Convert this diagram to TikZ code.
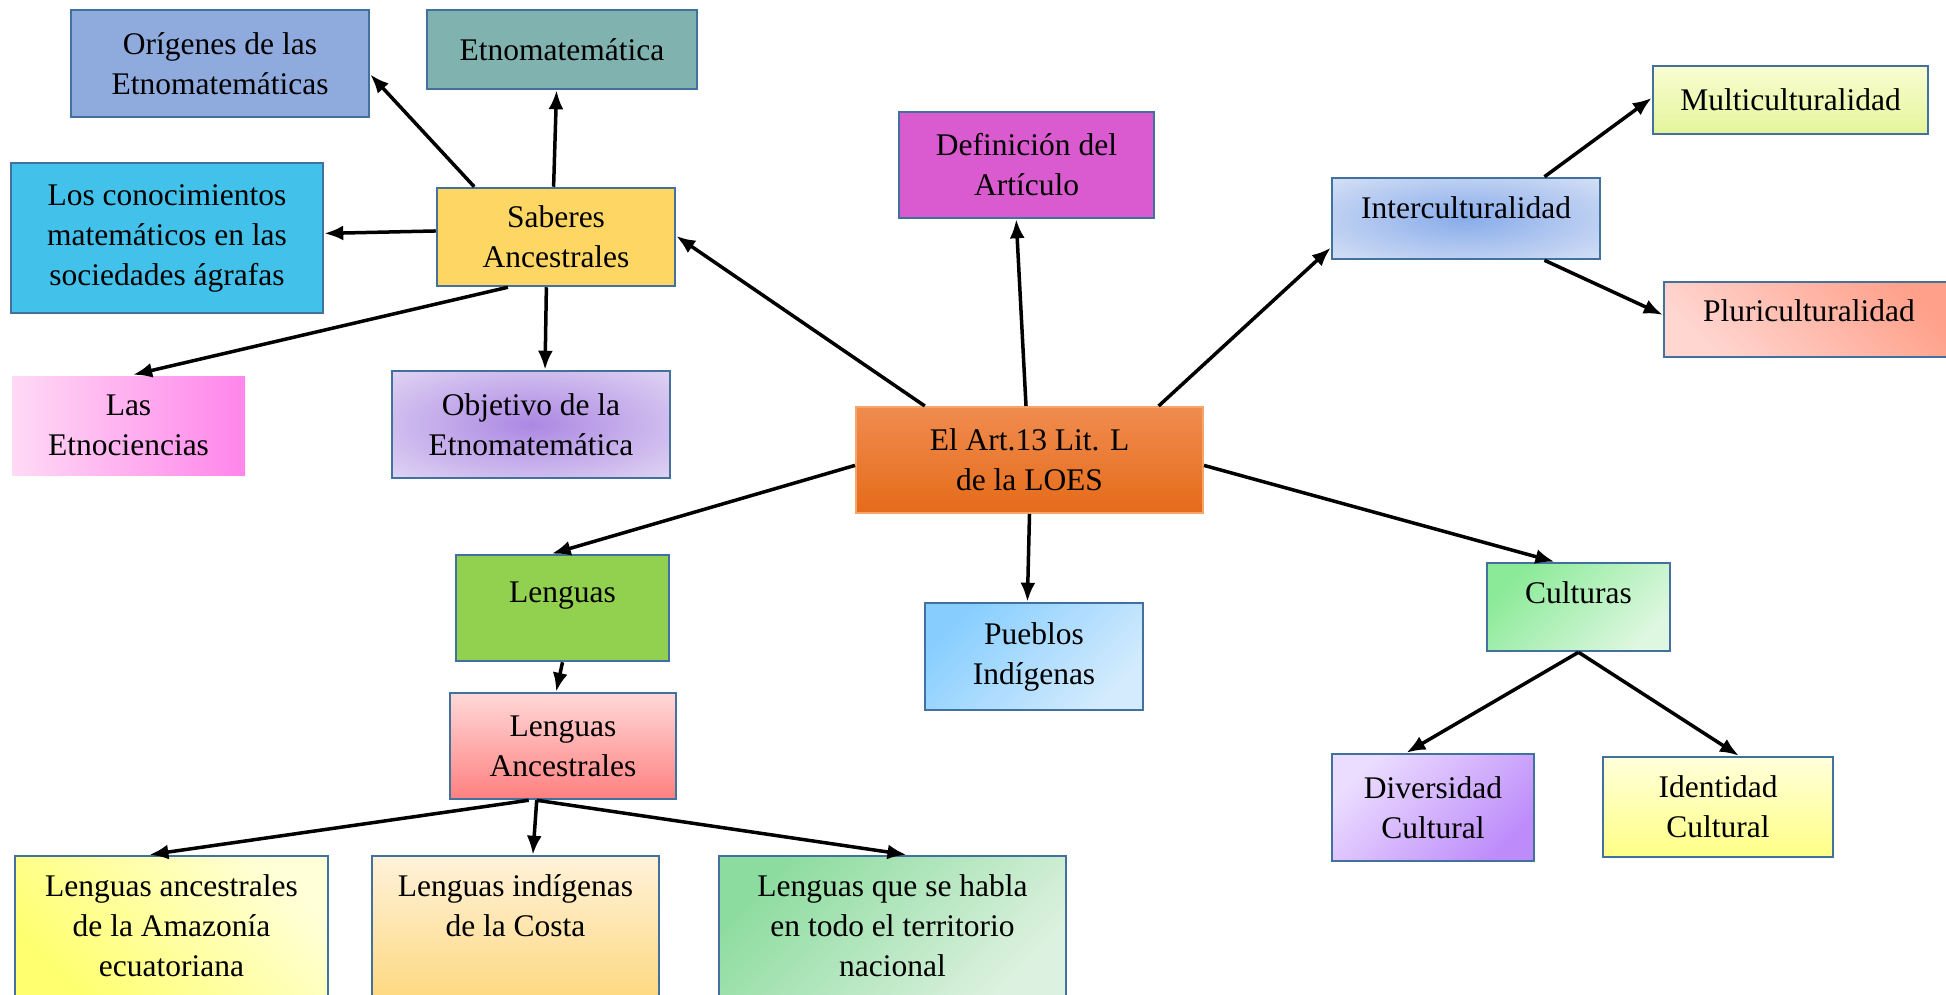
\documentclass[tikz,border=0pt]{standalone}
\usepackage{fontspec}
\setmainfont{Liberation Serif}
\usetikzlibrary{arrows.meta,calc}
\definecolor{bordc}{HTML}{41719C}
\definecolor{cOrig}{HTML}{8FABDD}
\definecolor{cEtno}{HTML}{80B2AF}
\definecolor{cConoc}{HTML}{42C2EB}
\definecolor{cSab}{HTML}{FDD663}
\definecolor{cDef}{HTML}{DA5ACF}
\definecolor{cLeng}{HTML}{92D050}
\definecolor{cArtB}{HTML}{F5A46B}
\definecolor{objin}{RGB}{172,136,227}
\definecolor{objout}{RGB}{230,221,245}
\definecolor{intin}{RGB}{136,172,234}
\definecolor{intout}{RGB}{222,230,247}
\pgfdeclareradialshading{objrad}{\pgfpoint{0bp}{0bp}}{color(0bp)=(objin); color(40bp)=(objout); color(50bp)=(objout)}
\pgfdeclareradialshading{intrad}{\pgfpoint{0bp}{0bp}}{color(0bp)=(intin); color(40bp)=(intout); color(50bp)=(intout)}
\tikzset{
  box/.style={draw=bordc, line width=2.5pt, inner sep=0pt, align=center,
    font=\fontsize{31.5}{40}\selectfont},
  con/.style={draw=black, line width=3.5pt, -{Latex[length=19pt,width=15pt]}},
}
\begin{document}
\begin{tikzpicture}[x=1pt,y=-1pt]
\useasboundingbox (0,0) rectangle (1946,995);
% top-left cluster
\node[box, fill=cOrig, minimum width=298pt, minimum height=107pt] (orig) at (220,63.5) {Orígenes de las\\Etnomatemáticas};
\node[box, fill=cEtno, minimum width=270pt, minimum height=79pt] (etno) at (562,49.5) {Etnomatemática};
\node[box, fill=cConoc, minimum width=312pt, minimum height=150pt] (conoc) at (167,238) {Los conocimientos\\matemáticos en las\\sociedades ágrafas};
\node[box, fill=cSab, minimum width=238pt, minimum height=98pt] (sab) at (556,237) {Saberes\\Ancestrales};
\node[box, draw=none, left color={rgb,255:red,255;green,218;blue,245}, right color={rgb,255:red,255;green,133;blue,235}, minimum width=233pt, minimum height=99pt] (etnoc) at (128.5,425.5) {Las\\Etnociencias};
\node[box, shading=objrad, minimum width=278pt, minimum height=107pt] (obj) at (531,424.5) {Objetivo de la\\Etnomatemática};
% center
\node[box, fill=cDef, minimum width=255pt, minimum height=106pt] (def) at (1026.5,165) {Definición del\\Artículo};
\node[box, draw=cArtB, line width=2pt, top color={rgb,255:red,240;green,140;blue,80}, middle color={rgb,255:red,244;green,126;blue,44}, bottom color={rgb,255:red,229;green,107;blue,25}, minimum width=347pt, minimum height=106pt] (art) at (1029.5,460) {El Art.13 Lit. L\\de la LOES};
% right cluster
\node[box, shading=intrad, minimum width=268pt, minimum height=81pt, text depth=21pt] (inter) at (1466,218.5) {Interculturalidad};
\node[box, top color={rgb,255:red,249;green,253;blue,210}, bottom color={rgb,255:red,228;green,245;blue,155}, minimum width=275pt, minimum height=68pt] (multi) at (1790.5,100) {Multiculturalidad};
\node[box, top color={rgb,255:red,255;green,160;blue,138}, bottom color={rgb,255:red,255;green,214;blue,208}, shading angle=-45, minimum width=290pt, minimum height=75pt, text depth=17pt] (pluri) at (1809,319.5) {Pluriculturalidad};
% lower middle
\node[box, fill=cLeng, minimum width=213pt, minimum height=106pt, text depth=31pt] (leng) at (562.5,608) {Lenguas};
\node[box, top color={rgb,255:red,135;green,206;blue,255}, bottom color={rgb,255:red,212;green,235;blue,253}, shading angle=45, minimum width=218pt, minimum height=107pt] (pueb) at (1034,656.5) {Pueblos\\Indígenas};
\node[box, top color={rgb,255:red,255;green,216;blue,216}, bottom color={rgb,255:red,255;green,128;blue,128}, minimum width=226pt, minimum height=106pt] (lanc) at (563,746) {Lenguas\\Ancestrales};
% bottom row
\node[box, top color={rgb,255:red,255;green,255;blue,216}, bottom color={rgb,255:red,255;green,255;blue,112}, shading angle=-45, minimum width=313pt, minimum height=140pt] (amaz) at (171.5,926) {Lenguas ancestrales\\de la Amazonía\\ecuatoriana};
\node[box, top color={rgb,255:red,255;green,242;blue,218}, bottom color={rgb,255:red,253;green,217;blue,130}, minimum width=287pt, minimum height=140pt] (costa) at (515.5,926) {Lenguas indígenas\\de la Costa\\\mbox{}};
\node[box, top color={rgb,255:red,141;green,220;blue,159}, bottom color={rgb,255:red,220;green,241;blue,223}, shading angle=45, minimum width=347pt, minimum height=140pt] (habla) at (892.5,926) {Lenguas que se habla\\en todo el territorio\\nacional};
% lower right
\node[box, top color={rgb,255:red,139;green,234;blue,152}, bottom color={rgb,255:red,221;green,247;blue,224}, shading angle=45, minimum width=183pt, minimum height=88pt, text depth=29.5pt] (cult) at (1578.5,607) {Culturas};
\node[box, top color={rgb,255:red,235;green,221;blue,255}, bottom color={rgb,255:red,190;green,140;blue,250}, shading angle=45, minimum width=202pt, minimum height=107pt] (div) at (1433,807.5) {Diversidad\\Cultural};
\node[box, top color={rgb,255:red,255;green,255;blue,219}, bottom color={rgb,255:red,255;green,255;blue,133}, minimum width=230pt, minimum height=100pt] (ident) at (1718,807) {Identidad\\Cultural};
% connectors
\draw[con] ($(sab.north west)!0.16!(sab.north east)$) -- ($(orig.north east)!0.6!(orig.south east)$);
\draw[con] ($(sab.north west)!0.49!(sab.north east)$) -- ($(etno.south west)!0.48!(etno.south east)$);
\draw[con] ($(sab.north west)!0.44!(sab.south west)$) -- ($(conoc.north east)!0.47!(conoc.south east)$);
\draw[con] ($(sab.south west)!0.30!(sab.south east)$) -- ($(etnoc.north west)!0.52!(etnoc.north east)$);
\draw[con] ($(sab.south west)!0.46!(sab.south east)$) -- ($(obj.north west)!0.55!(obj.north east)$);
\draw[con] ($(art.north west)!0.2!(art.north east)$) -- ($(sab.north east)!0.49!(sab.south east)$);
\draw[con] ($(art.north west)!0.49!(art.north east)$) -- ($(def.south west)!0.46!(def.south east)$);
\draw[con] ($(art.north west)!0.87!(art.north east)$) -- ($(inter.north west)!0.85!(inter.south west)$);
\draw[con] ($(inter.north west)!0.79!(inter.north east)$) -- ($(multi.north west)!0.47!(multi.south west)$);
\draw[con] ($(inter.south west)!0.79!(inter.south east)$) -- ($(pluri.north west)!0.44!(pluri.south west)$);
\draw[con] ($(art.north west)!0.55!(art.south west)$) -- ($(leng.north west)!0.45!(leng.north east)$);
\draw[con] ($(art.south west)!0.5!(art.south east)$) -- ($(pueb.north west)!0.47!(pueb.north east)$);
\draw[con] ($(art.north east)!0.55!(art.south east)$) -- ($(cult.north west)!0.37!(cult.north east)$);
\draw[con] ($(leng.south west)!0.5!(leng.south east)$) -- ($(lanc.north west)!0.47!(lanc.north east)$);
\draw[con] ($(lanc.south west)!0.35!(lanc.south east)$) -- ($(amaz.north west)!0.43!(amaz.north east)$);
\draw[con] ($(lanc.south west)!0.385!(lanc.south east)$) -- ($(costa.north west)!0.56!(costa.north east)$);
\draw[con] ($(lanc.south west)!0.385!(lanc.south east)$) -- ($(habla.north west)!0.54!(habla.north east)$);
\draw[con] ($(cult.south west)!0.5!(cult.south east)$) -- ($(div.north west)!0.37!(div.north east)$);
\draw[con] ($(cult.south west)!0.5!(cult.south east)$) -- ($(ident.north west)!0.59!(ident.north east)$);
\end{tikzpicture}
\end{document}
